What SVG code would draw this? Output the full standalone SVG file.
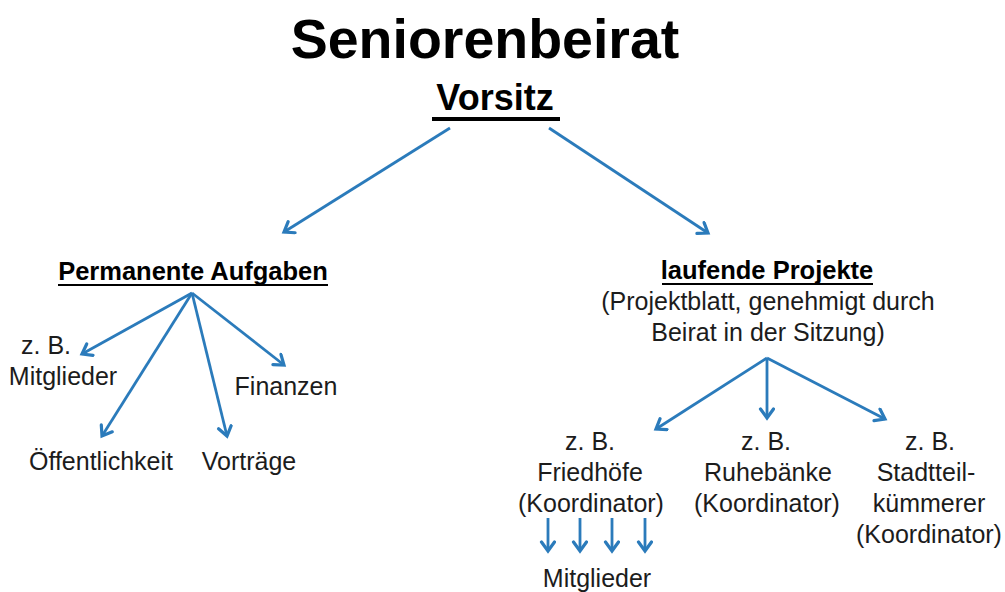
<svg xmlns="http://www.w3.org/2000/svg" width="1005" height="592" viewBox="0 0 1005 592">
<defs>
<marker id="ah" markerUnits="userSpaceOnUse" markerWidth="18" markerHeight="18" refX="12" refY="8" orient="auto">
<path d="M3,1.5 L12,8 L3,14.5" fill="none" stroke="#2b7bbb" stroke-width="3.2" stroke-linejoin="miter" stroke-linecap="round"/>
</marker>
<style>
.t{font-family:"Liberation Sans",Arial,sans-serif;fill:#1c1c1c;text-anchor:middle}
.b{font-weight:bold;fill:#000}
.n{font-size:25px}
.c{stroke:#2b7bbb;stroke-width:2.8;fill:none;marker-end:url(#ah)}
.u{fill:#000}
</style>
</defs>
<rect width="1005" height="592" fill="#fff"/>
<g id="title">
<text class="t b" x="485" y="58" font-size="55.5">Seniorenbeirat</text>
</g>
<g id="vorsitz">
<text class="t b" x="495" y="110" font-size="36">Vorsitz</text>
<rect class="u" x="432" y="117" width="128" height="4"/>
</g>
<g id="permanente">
<text class="t b" x="193" y="280" font-size="25.5">Permanente Aufgaben</text>
<rect class="u" x="58" y="284" width="270" height="2"/>
</g>
<g id="laufende">
<text class="t b" x="767" y="279" font-size="25.5">laufende Projekte</text>
<rect class="u" x="662" y="283" width="211" height="2"/>
<text class="t n" x="768" y="310">(Projektblatt, genehmigt durch</text>
<text class="t n" x="768" y="341">Beirat in der Sitzung)</text>
</g>
<g id="mitglieder-left">
<text class="t n" x="46" y="354">z. B.</text>
<text class="t n" x="63" y="385">Mitglieder</text>
</g>
<g id="finanzen"><text class="t n" x="286" y="395">Finanzen</text></g>
<g id="oeffentlichkeit"><text class="t n" x="101" y="470">Öffentlichkeit</text></g>
<g id="vortraege"><text class="t n" x="249" y="470">Vorträge</text></g>
<g id="friedhoefe">
<text class="t n" x="590" y="450">z. B.</text>
<text class="t n" x="590" y="481">Friedhöfe</text>
<text class="t n" x="591" y="512">(Koordinator)</text>
</g>
<g id="ruhebaenke">
<text class="t n" x="766" y="450">z. B.</text>
<text class="t n" x="768" y="481">Ruhebänke</text>
<text class="t n" x="767" y="512">(Koordinator)</text>
</g>
<g id="stadtteil">
<text class="t n" x="930" y="450">z. B.</text>
<text class="t n" x="926" y="481">Stadtteil-</text>
<text class="t n" x="929" y="512">kümmerer</text>
<text class="t n" x="929" y="543">(Koordinator)</text>
</g>
<g id="mitglieder-bottom"><text class="t n" x="597" y="587">Mitglieder</text></g>
<g id="connectors">
<line class="c" x1="450" y1="128" x2="284" y2="232"/>
<line class="c" x1="549" y1="128" x2="708" y2="233"/>
<line class="c" x1="192" y1="293" x2="82" y2="354"/>
<line class="c" x1="192" y1="293" x2="102" y2="436"/>
<line class="c" x1="192" y1="293" x2="227" y2="436"/>
<line class="c" x1="192" y1="293" x2="284" y2="365"/>
<line class="c" x1="767" y1="358" x2="656" y2="429"/>
<line class="c" x1="767" y1="358" x2="767" y2="418"/>
<line class="c" x1="767" y1="358" x2="885" y2="419"/>
<line class="c" x1="548" y1="518" x2="548" y2="551"/>
<line class="c" x1="580" y1="518" x2="580" y2="551"/>
<line class="c" x1="612" y1="518" x2="612" y2="551"/>
<line class="c" x1="645" y1="518" x2="645" y2="551"/>
</g>
</svg>
